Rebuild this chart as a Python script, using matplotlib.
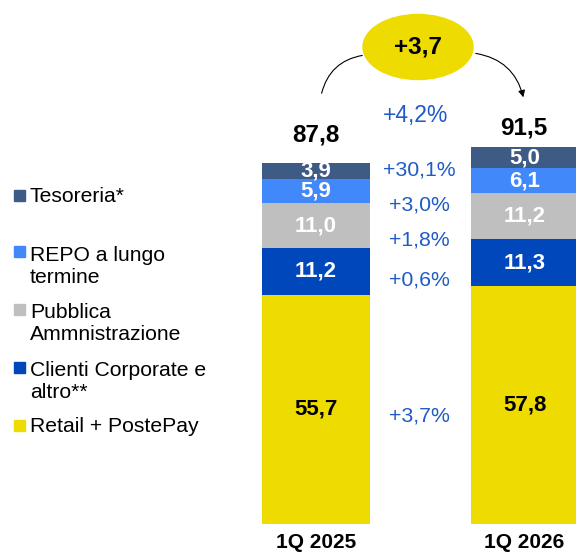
import matplotlib
matplotlib.use("Agg")
import matplotlib.pyplot as plt
from matplotlib.patches import Ellipse, Rectangle
import numpy as np

plt.rcParams['font.family'] = ['Liberation Sans', 'DejaVu Sans']

periods = ["1Q 2025", "1Q 2026"]
segments = ["Retail + PostePay", "Clienti Corporate e\naltro**", "Pubblica\nAmmnistrazione",
            "REPO a lungo\ntermine", "Tesoreria*"]
values = {
    "1Q 2025": [55.7, 11.2, 11.0, 5.9, 3.9],
    "1Q 2026": [57.8, 11.3, 11.2, 6.1, 5.0],
}
totals = [87.8, 91.5]
growth = ["+3,7%", "+0,6%", "+1,8%", "+3,0%", "+30,1%"]
total_growth = "+4,2%"
delta = "+3,7"

colors = ["#EEDB00", "#0047BB", "#BFBFBF", "#4189FA", "#3E5B86"]
label_colors = ["black", "white", "white", "white", "white"]
blue_txt = "#1F5BC6"

W, H = 576, 554
fig = plt.figure(figsize=(W / 100, H / 100), dpi=100)
ax = fig.add_axes([0, 0, 1, 1])
ax.set_xlim(-316 / 209, (W - 316) / 209)
ax.set_ylim(-30 / 4.12, (H - 30) / 4.12)
ax.axis("off")


def px(x, y):
    # pixel from top-left -> figure fraction
    return x / W, 1 - y / H


x = np.arange(len(periods))
bottom = np.zeros(len(periods))
for i in range(len(segments)):
    vals = np.array([values[p][i] for p in periods])
    ax.bar(x, vals, width=0.512, bottom=bottom, color=colors[i], linewidth=0)
    for xi, v, b in zip(x, vals, bottom):
        ax.text(xi, b + v / 2, f"{v:.1f}".replace(".", ","), ha="center", va="center",
                fontsize=16, fontweight="bold", color=label_colors[i])
    bottom += vals

tot_pos = [(316, 135), (524, 128)]
for xi, t in zip(x, totals):
    fig.text(*px(*tot_pos[xi]), f"{t:.1f}".replace(".", ","), ha="center", va="center",
             fontsize=17.5, fontweight="bold")
    fig.text(*px(tot_pos[xi][0], 543), periods[xi], ha="center", va="center",
             fontsize=15, fontweight="bold")

# growth percentages
g_y = [416, 280, 240, 205, 170]
for g, yy in zip(growth, g_y):
    fig.text(*px(419, yy), g, ha="center", va="center", fontsize=15.3, color=blue_txt)
fig.text(*px(416, 115), total_growth, ha="center", va="center", fontsize=16.5, color=blue_txt)

# ellipse with delta
ex, ey = px(418, 47)
ell = Ellipse((ex, ey), 110 / W, 65 / H, transform=fig.transFigure, color="#EEDB00", zorder=3)
fig.patches.append(ell)
fig.text(ex, ey, delta, ha="center", va="center", fontsize=17.5, fontweight="bold", zorder=4)

ax.annotate("", xy=px(365, 55), xytext=px(321, 96), xycoords="figure fraction",
            textcoords="figure fraction",
            arrowprops=dict(arrowstyle="-", color="black", lw=0.8,
                            connectionstyle="arc3,rad=-0.35"))
ax.annotate("", xy=px(524, 100), xytext=px(473, 53), xycoords="figure fraction",
            textcoords="figure fraction",
            arrowprops=dict(arrowstyle="-|>", color="black", lw=0.8, mutation_scale=10,
                            connectionstyle="arc3,rad=-0.35"))

# legend
leg_y = [425, 367, 309, 252, 195]
for lab, c, yy in zip(segments, colors, leg_y):
    sx, sy = px(14, yy + 5.5)
    fig.patches.append(Rectangle((sx, sy), 11 / W, 11 / H, transform=fig.transFigure,
                                 color=c))
    n = lab.count("\n")
    fig.text(*px(30, yy + 2 + 12.5 * n), lab, ha="left", va="center", fontsize=15.2,
             linespacing=1.15)

fig.savefig("out.png", dpi=100)
